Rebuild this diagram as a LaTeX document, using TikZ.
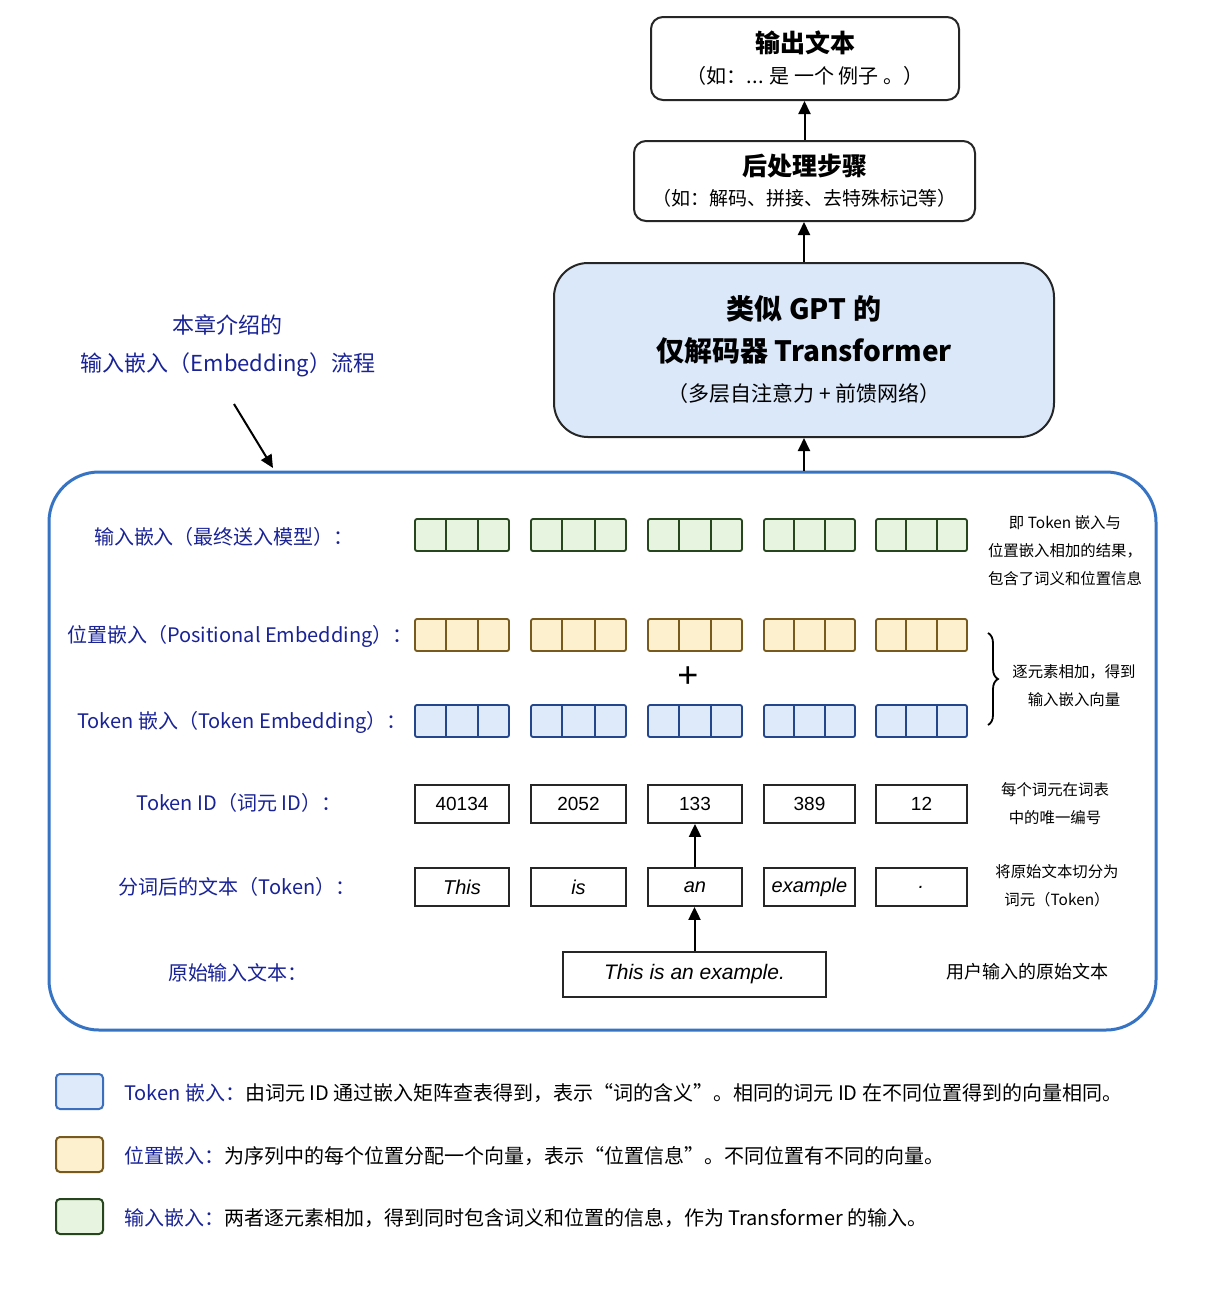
\documentclass[tikz,border=0pt]{standalone}
\usepackage{fontspec}
\setmainfont{Noto Sans CJK SC}
\newfontfamily\lat{Liberation Sans}
\usetikzlibrary{arrows.meta,calc,decorations.pathreplacing}
\definecolor{lblue}{RGB}{25,35,150}
\definecolor{contc}{RGB}{55,115,195}
\definecolor{gfill}{RGB}{230,244,224}
\definecolor{gdraw}{RGB}{40,70,30}
\definecolor{yfill}{RGB}{253,240,207}
\definecolor{ydraw}{RGB}{120,90,30}
\definecolor{bfill}{RGB}{222,233,250}
\definecolor{bdraw}{RGB}{35,70,140}
\definecolor{lgb}{RGB}{60,110,190}
\definecolor{gptfill}{RGB}{218,232,250}
\begin{document}
\begin{tikzpicture}[x=0.5pt,y=-0.5pt,
 box/.style={draw=black!85, line width=1pt, rounded corners=6pt, fill=white, inner sep=0},
 arr/.style={-{Triangle[length=6.5pt,width=6pt]}, line width=1pt},
 lab/.style={text=lblue, font=\fontsize{10}{12}\selectfont},
 note/.style={font=\fontsize{7.7}{14}\selectfont, align=center},
 grp/.style={line width=0.9pt, rounded corners=1pt, minimum height=16pt, inner sep=0},
 idbox/.style={draw=black!85, line width=0.9pt, minimum height=19pt, inner sep=0, font=\lat\fontsize{9.5}{12}\selectfont},
 tok/.style={draw=black!85, line width=0.9pt, minimum height=19pt, inner sep=0, font=\lat\fontsize{10}{12}\selectfont\itshape},
 lgsq/.style={line width=1pt, rounded corners=2pt, minimum width=23.5pt, minimum height=17.5pt, inner sep=0},
 lgtext/.style={anchor=west, font=\fontsize{10}{12}\selectfont},
]
\useasboundingbox[fill=white] (0,0) rectangle (1212,1298);

% top boxes
\node[box, minimum width=154pt, minimum height=41.5pt] (out) at (805,58.5) {};
\node[font=\bfseries\fontsize{12.5}{14}\selectfont] (outa) at (805,43) {输出文本};
\node[font=\fontsize{10}{12}\selectfont] (outb) at (805,76) {（如：... 是 一个 例子 。）};

\node[box, minimum width=170.5pt, minimum height=40pt] (post) at (804.5,181) {};
\node[font=\bfseries\fontsize{12.5}{14}\selectfont] (posta) at (804.5,166) {后处理步骤};
\node[font=\fontsize{9.5}{12}\selectfont] (postb) at (804.5,198) {（如：解码、拼接、去特殊标记等）};

\node[draw=black!85, fill=gptfill, line width=1pt, rounded corners=17pt, minimum width=250pt, minimum height=87pt, inner sep=0] (gpt) at (804,350) {};
\node[font=\bfseries\fontsize{14}{16}\selectfont] (gpta) at (804,309) {类似 GPT 的};
\node[font=\bfseries\fontsize{14}{16}\selectfont] (gptb) at (804,351) {仅解码器 Transformer};
\node[font=\fontsize{10.5}{12}\selectfont] (gptc) at (804,394) {（多层自注意力 + 前馈网络）};

\draw[arr] (post.north) -- (post.north |- out.south);
\draw[arr] (gpt.north) -- (gpt.north |- post.south);

% container
\node[draw=contc, line width=1.5pt, rounded corners=25pt, minimum width=553.5pt, minimum height=279pt, inner sep=0] (cont) at (602.5,751) {};
\draw[arr] (gpt.south |- cont.north) -- (gpt.south);

% annotation
\node[text=lblue, font=\fontsize{11}{19}\selectfont, align=center] (anno) at (228,346) {本章介绍的\\输入嵌入（Embedding）流程};
\coordinate (a1) at (234,404);
\coordinate (a2) at (273,468);
\draw[arr] (a1) -- (a2);

% row labels
\node[lab] (l1) at (224,537) {输入嵌入（最终送入模型）：};
\node[lab] (l2) at (240,636) {位置嵌入（Positional Embedding）：};
\node[lab] (l3) at (242,722) {Token 嵌入（Token Embedding）：};
\node[lab] (l4) at (239,803) {Token ID（词元 ID）：};
\node[lab] (l5) at (237,887) {分词后的文本（Token）：};
\node[lab] (l6) at (238,973) {原始输入文本：};

% vector groups
\foreach \i/\cx/\w/\id/\tk in {1/462/94/40134/This,2/578.5/95/2052/is,3/695/94/133/an,4/809.5/91/389/example,5/921.5/91/12/.} {
  \node[grp, fill=gfill, draw=gdraw, minimum width=\w*0.5pt] (g\i) at (\cx,535) {};
  \node[grp, fill=yfill, draw=ydraw, minimum width=\w*0.5pt] (p\i) at (\cx,635) {};
  \node[grp, fill=bfill, draw=bdraw, minimum width=\w*0.5pt] (t\i) at (\cx,721) {};
  \foreach \n/\c in {g/gdraw,p/ydraw,t/bdraw} {
    \draw[\c, line width=0.9pt] ($(\n\i.north west)!1/3!(\n\i.north east)$) -- ($(\n\i.south west)!1/3!(\n\i.south east)$);
    \draw[\c, line width=0.9pt] ($(\n\i.north west)!2/3!(\n\i.north east)$) -- ($(\n\i.south west)!2/3!(\n\i.south east)$);
  }
  \node[idbox, minimum width=\w*0.5pt] (id\i) at (\cx,804) {\id};
  \node[tok, minimum width=\w*0.5pt] (tk\i) at (\cx,887) {\tk};
}

\node[font=\lat\fontsize{18}{20}\selectfont] (plus) at (688,677) {+};
\draw[decorate, decoration={brace, amplitude=5pt}, line width=0.9pt] (988,633) -- (988,725);

% raw text
\node[draw=black!85, line width=0.9pt, minimum width=131.5pt, minimum height=22.5pt, inner sep=0, font=\lat\fontsize{10.5}{12}\selectfont\itshape] (raw) at (694.5,974.5) {This is an example.};
\draw[arr] (raw.north) -- (raw.north |- tk3.south);
\draw[arr] (tk3.north) -- (tk3.north |- id3.south);

% notes
\node[note] (n1) at (1065,551) {即 Token 嵌入与\\位置嵌入相加的结果，\\包含了词义和位置信息};
\node[note] (n2) at (1074,686) {逐元素相加，得到\\输入嵌入向量};
\node[note] (n3) at (1055,804) {每个词元在词表\\中的唯一编号};
\node[note] (n4) at (1057,886) {将原始文本切分为\\词元（Token）};
\node[note, font=\fontsize{9}{12}\selectfont] (n5) at (1027,972) {用户输入的原始文本};

% legend
\node[lgsq, draw=lgb, fill=bfill] (lg1) at (79.5,1091.5) {};
\node[lgsq, draw=ydraw, fill=yfill] (lg2) at (79.5,1154.5) {};
\node[lgsq, draw=gdraw, fill=gfill] (lg3) at (79.5,1216.5) {};
\node[lgtext] (lt1) at (117,1093) {\textcolor{lblue}{Token 嵌入：}由词元 ID 通过嵌入矩阵查表得到，表示“词的含义”。相同的词元 ID 在不同位置得到的向量相同。};
\node[lgtext] (lt2) at (117,1156) {\textcolor{lblue}{位置嵌入：}为序列中的每个位置分配一个向量，表示“位置信息”。不同位置有不同的向量。};
\node[lgtext] (lt3) at (117,1218) {\textcolor{lblue}{输入嵌入：}两者逐元素相加，得到同时包含词义和位置的信息，作为 Transformer 的输入。};
\end{tikzpicture}
\end{document}
